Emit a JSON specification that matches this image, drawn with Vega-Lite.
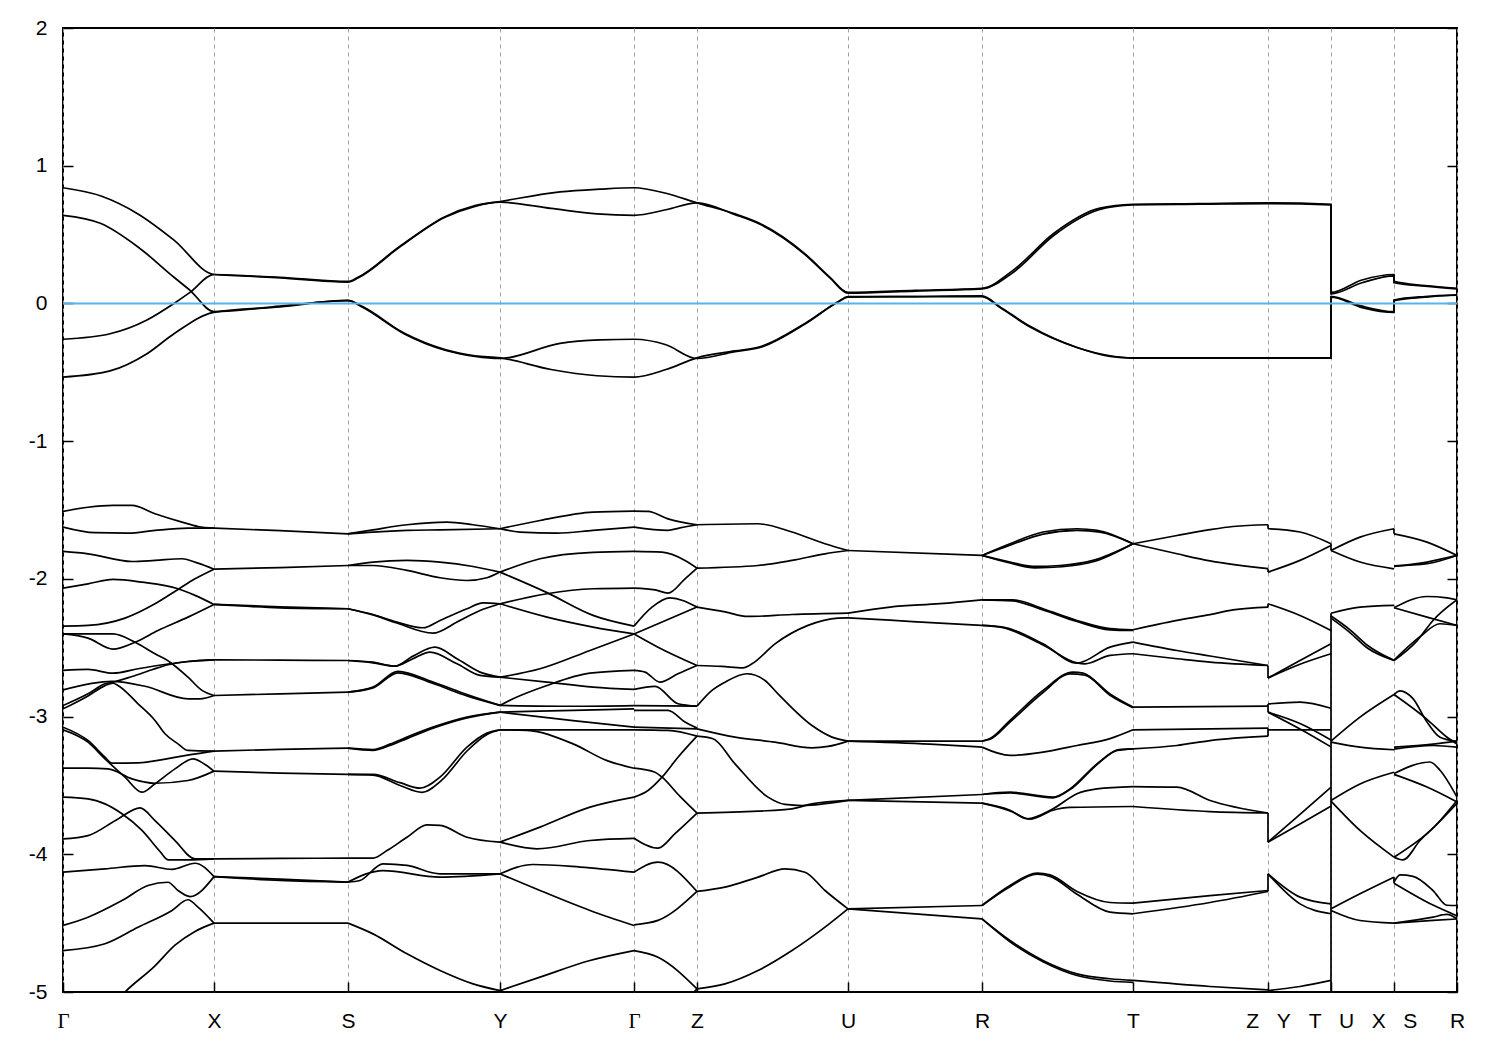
{
"$schema":"https://vega.github.io/schema/vega-lite/v6.json",
"width":1394,"height":964,
"autosize":{"type":"none"},
"padding":{"left":63,"top":28,"right":43,"bottom":58},
"background":"white",
"config":{"view":{"stroke":"black","strokeWidth":2},"axis":{"domain":false}},
"datasets":{"b":[
{"s":"U1","k":63,"e":0.84},{"s":"U1","k":101,"e":0.78},{"s":"U1","k":138,"e":0.65},{"s":"U1","k":174,"e":0.46},{"s":"U1","k":214,"e":0.21},{"s":"U1","k":280,"e":0.19},{"s":"U1","k":348,"e":0.16},{"s":"U1","k":358,"e":0.19},{"s":"U1","k":399,"e":0.41},{"s":"U1","k":445,"e":0.63},{"s":"U1","k":475,"e":0.71},{"s":"U1","k":500,"e":0.74},{"s":"U1","k":560,"e":0.81},{"s":"U1","k":600,"e":0.83},{"s":"U1","k":634,"e":0.84},{"s":"U1","k":666,"e":0.8},{"s":"U1","k":697,"e":0.73},{"s":"U1","k":735,"e":0.65},{"s":"U1","k":760,"e":0.58},{"s":"U1","k":805,"e":0.36},{"s":"U1","k":830,"e":0.19},{"s":"U1","k":848,"e":0.08},{"s":"U1","k":915,"e":0.095},{"s":"U1","k":982,"e":0.11},{"s":"U1","k":1013,"e":0.24},{"s":"U1","k":1054,"e":0.51},{"s":"U1","k":1099,"e":0.69},{"s":"U1","k":1133,"e":0.72},{"s":"U1","k":1200,"e":0.725},{"s":"U1","k":1268,"e":0.73},{"s":"U1","k":1331,"e":0.72},{"s":"U1","k":1331,"e":0.08},{"s":"U1","k":1362,"e":0.17},{"s":"U1","k":1394,"e":0.21},{"s":"U1","k":1394,"e":0.16},{"s":"U1","k":1425,"e":0.13},{"s":"U1","k":1457,"e":0.11},
{"s":"U3","k":63,"e":-0.26},{"s":"U3","k":110,"e":-0.22},{"s":"U3","k":147,"e":-0.12},{"s":"U3","k":174,"e":0.0},{"s":"U3","k":190,"e":0.08},{"s":"U3","k":214,"e":0.21},{"s":"U3","k":280,"e":0.185},{"s":"U3","k":348,"e":0.155},{"s":"U3","k":358,"e":0.185},{"s":"U3","k":399,"e":0.405},{"s":"U3","k":445,"e":0.625},{"s":"U3","k":475,"e":0.705},{"s":"U3","k":500,"e":0.735},{"s":"U3","k":551,"e":0.69},{"s":"U3","k":597,"e":0.65},{"s":"U3","k":634,"e":0.64},{"s":"U3","k":666,"e":0.68},{"s":"U3","k":697,"e":0.73},{"s":"U3","k":735,"e":0.645},{"s":"U3","k":760,"e":0.575},{"s":"U3","k":805,"e":0.355},{"s":"U3","k":830,"e":0.185},{"s":"U3","k":848,"e":0.075},{"s":"U3","k":915,"e":0.09},{"s":"U3","k":982,"e":0.105},{"s":"U3","k":1013,"e":0.225},{"s":"U3","k":1054,"e":0.495},{"s":"U3","k":1099,"e":0.68},{"s":"U3","k":1133,"e":0.715},{"s":"U3","k":1200,"e":0.72},{"s":"U3","k":1268,"e":0.725},{"s":"U3","k":1331,"e":0.715},{"s":"U3","k":1331,"e":0.07},{"s":"U3","k":1362,"e":0.15},{"s":"U3","k":1394,"e":0.2},{"s":"U3","k":1394,"e":0.15},{"s":"U3","k":1425,"e":0.125},{"s":"U3","k":1457,"e":0.105},
{"s":"U2","k":63,"e":0.64},{"s":"U2","k":101,"e":0.58},{"s":"U2","k":138,"e":0.41},{"s":"U2","k":174,"e":0.19},{"s":"U2","k":190,"e":0.095},{"s":"U2","k":214,"e":-0.06},{"s":"U2","k":280,"e":-0.02},{"s":"U2","k":348,"e":0.02},{"s":"U2","k":363,"e":-0.03},{"s":"U2","k":404,"e":-0.22},{"s":"U2","k":445,"e":-0.34},{"s":"U2","k":475,"e":-0.385},{"s":"U2","k":500,"e":-0.4},{"s":"U2","k":560,"e":-0.29},{"s":"U2","k":600,"e":-0.265},{"s":"U2","k":634,"e":-0.26},{"s":"U2","k":666,"e":-0.3},{"s":"U2","k":697,"e":-0.4},{"s":"U2","k":735,"e":-0.35},{"s":"U2","k":760,"e":-0.32},{"s":"U2","k":805,"e":-0.15},{"s":"U2","k":838,"e":0.01},{"s":"U2","k":848,"e":0.045},{"s":"U2","k":915,"e":0.05},{"s":"U2","k":982,"e":0.055},{"s":"U2","k":1000,"e":-0.025},{"s":"U2","k":1031,"e":-0.17},{"s":"U2","k":1077,"e":-0.32},{"s":"U2","k":1110,"e":-0.38},{"s":"U2","k":1133,"e":-0.395},{"s":"U2","k":1200,"e":-0.395},{"s":"U2","k":1268,"e":-0.395},{"s":"U2","k":1331,"e":-0.395},{"s":"U2","k":1331,"e":0.045},{"s":"U2","k":1362,"e":-0.03},{"s":"U2","k":1394,"e":-0.065},{"s":"U2","k":1394,"e":0.02},{"s":"U2","k":1425,"e":0.045},{"s":"U2","k":1457,"e":0.063},
{"s":"U4","k":63,"e":-0.535},{"s":"U4","k":110,"e":-0.49},{"s":"U4","k":147,"e":-0.365},{"s":"U4","k":174,"e":-0.22},{"s":"U4","k":214,"e":-0.065},{"s":"U4","k":280,"e":-0.025},{"s":"U4","k":348,"e":0.022},{"s":"U4","k":363,"e":-0.025},{"s":"U4","k":404,"e":-0.215},{"s":"U4","k":445,"e":-0.335},{"s":"U4","k":475,"e":-0.38},{"s":"U4","k":500,"e":-0.395},{"s":"U4","k":551,"e":-0.48},{"s":"U4","k":597,"e":-0.525},{"s":"U4","k":634,"e":-0.535},{"s":"U4","k":666,"e":-0.48},{"s":"U4","k":697,"e":-0.395},{"s":"U4","k":735,"e":-0.345},{"s":"U4","k":760,"e":-0.315},{"s":"U4","k":805,"e":-0.145},{"s":"U4","k":838,"e":0.012},{"s":"U4","k":848,"e":0.05},{"s":"U4","k":915,"e":0.05},{"s":"U4","k":982,"e":0.05},{"s":"U4","k":1000,"e":-0.03},{"s":"U4","k":1031,"e":-0.175},{"s":"U4","k":1077,"e":-0.32},{"s":"U4","k":1110,"e":-0.385},{"s":"U4","k":1133,"e":-0.398},{"s":"U4","k":1200,"e":-0.398},{"s":"U4","k":1268,"e":-0.398},{"s":"U4","k":1331,"e":-0.398},{"s":"U4","k":1331,"e":0.05},{"s":"U4","k":1362,"e":-0.02},{"s":"U4","k":1394,"e":-0.06},{"s":"U4","k":1394,"e":0.025},{"s":"U4","k":1425,"e":0.05},{"s":"U4","k":1457,"e":0.06},
{"s":"gx1","k":63,"e":-1.51},{"s":"gx1","k":88,"e":-1.48},{"s":"gx1","k":113,"e":-1.467},{"s":"gx1","k":132,"e":-1.467},{"s":"gx1","k":155,"e":-1.527},{"s":"gx1","k":182,"e":-1.588},{"s":"gx1","k":198,"e":-1.62},{"s":"gx1","k":214,"e":-1.632},
{"s":"gx2","k":63,"e":-1.624},{"s":"gx2","k":95,"e":-1.665},{"s":"gx2","k":128,"e":-1.668},{"s":"gx2","k":155,"e":-1.648},{"s":"gx2","k":188,"e":-1.632},{"s":"gx2","k":214,"e":-1.632},
{"s":"gx3","k":63,"e":-1.801},{"s":"gx3","k":88,"e":-1.818},{"s":"gx3","k":132,"e":-1.874},{"s":"gx3","k":155,"e":-1.866},{"s":"gx3","k":182,"e":-1.854},{"s":"gx3","k":198,"e":-1.886},{"s":"gx3","k":214,"e":-1.93},
{"s":"gx4","k":63,"e":-2.067},{"s":"gx4","k":88,"e":-2.036},{"s":"gx4","k":113,"e":-2.004},{"s":"gx4","k":142,"e":-2.024},{"s":"gx4","k":178,"e":-2.072},{"s":"gx4","k":195,"e":-2.12},{"s":"gx4","k":214,"e":-2.186},
{"s":"gx5","k":63,"e":-2.343},{"s":"gx5","k":88,"e":-2.338},{"s":"gx5","k":125,"e":-2.285},{"s":"gx5","k":155,"e":-2.181},{"s":"gx5","k":178,"e":-2.077},{"s":"gx5","k":195,"e":-2.0},{"s":"gx5","k":214,"e":-1.93},
{"s":"gx6","k":63,"e":-2.4},{"s":"gx6","k":88,"e":-2.43},{"s":"gx6","k":113,"e":-2.51},{"s":"gx6","k":135,"e":-2.46},{"s":"gx6","k":158,"e":-2.375},{"s":"gx6","k":188,"e":-2.278},{"s":"gx6","k":214,"e":-2.186},
{"s":"gx7","k":63,"e":-2.4},{"s":"gx7","k":113,"e":-2.4},{"s":"gx7","k":135,"e":-2.46},{"s":"gx7","k":155,"e":-2.544},{"s":"gx7","k":170,"e":-2.605},{"s":"gx7","k":188,"e":-2.714},{"s":"gx7","k":202,"e":-2.81},{"s":"gx7","k":214,"e":-2.847},
{"s":"gx8","k":63,"e":-2.665},{"s":"gx8","k":88,"e":-2.658},{"s":"gx8","k":113,"e":-2.685},{"s":"gx8","k":138,"e":-2.653},{"s":"gx8","k":165,"e":-2.622},{"s":"gx8","k":188,"e":-2.6},{"s":"gx8","k":214,"e":-2.588},
{"s":"gx9","k":63,"e":-2.806},{"s":"gx9","k":112,"e":-2.745},{"s":"gx9","k":145,"e":-2.78},{"s":"gx9","k":188,"e":-2.871},{"s":"gx9","k":200,"e":-2.871},{"s":"gx9","k":214,"e":-2.847},
{"s":"gx10","k":63,"e":-2.92},{"s":"gx10","k":88,"e":-2.835},{"s":"gx10","k":105,"e":-2.762},{"s":"gx10","k":113,"e":-2.75},{"s":"gx10","k":132,"e":-2.709},{"s":"gx10","k":152,"e":-2.66},{"s":"gx10","k":168,"e":-2.624},{"s":"gx10","k":188,"e":-2.6},{"s":"gx10","k":214,"e":-2.588},
{"s":"gx11","k":63,"e":-2.944},{"s":"gx11","k":88,"e":-2.85},{"s":"gx11","k":105,"e":-2.775},{"s":"gx11","k":113,"e":-2.758},{"s":"gx11","k":118,"e":-2.774},{"s":"gx11","k":138,"e":-2.907},{"s":"gx11","k":155,"e":-3.028},{"s":"gx11","k":165,"e":-3.125},{"s":"gx11","k":178,"e":-3.198},{"s":"gx11","k":188,"e":-3.246},{"s":"gx11","k":214,"e":-3.251},
{"s":"gxa","k":63,"e":-3.077},{"s":"gxa","k":88,"e":-3.174},{"s":"gxa","k":105,"e":-3.295},{"s":"gxa","k":112,"e":-3.338},{"s":"gxa","k":138,"e":-3.336},{"s":"gxa","k":172,"e":-3.3},{"s":"gxa","k":192,"e":-3.275},{"s":"gxa","k":214,"e":-3.251},
{"s":"gxc","k":63,"e":-3.096},{"s":"gxc","k":88,"e":-3.186},{"s":"gxc","k":105,"e":-3.307},{"s":"gxc","k":125,"e":-3.44},{"s":"gxc","k":142,"e":-3.549},{"s":"gxc","k":155,"e":-3.488},{"s":"gxc","k":175,"e":-3.38},{"s":"gxc","k":193,"e":-3.307},{"s":"gxc","k":205,"e":-3.348},{"s":"gxc","k":214,"e":-3.396},
{"s":"gxb","k":63,"e":-3.375},{"s":"gxb","k":88,"e":-3.375},{"s":"gxb","k":108,"e":-3.38},{"s":"gxb","k":132,"e":-3.452},{"s":"gxb","k":155,"e":-3.484},{"s":"gxb","k":188,"e":-3.464},{"s":"gxb","k":214,"e":-3.396},
{"s":"gxd","k":63,"e":-3.585},{"s":"gxd","k":88,"e":-3.597},{"s":"gxd","k":105,"e":-3.634},{"s":"gxd","k":122,"e":-3.706},{"s":"gxd","k":142,"e":-3.827},{"s":"gxd","k":160,"e":-3.98},{"s":"gxd","k":168,"e":-4.04},{"s":"gxd","k":188,"e":-4.04},{"s":"gxd","k":214,"e":-4.033},
{"s":"gxe","k":63,"e":-3.888},{"s":"gxe","k":88,"e":-3.864},{"s":"gxe","k":118,"e":-3.743},{"s":"gxe","k":140,"e":-3.663},{"s":"gxe","k":155,"e":-3.755},{"s":"gxe","k":175,"e":-3.9},{"s":"gxe","k":195,"e":-4.033},{"s":"gxe","k":214,"e":-4.033},
{"s":"gxf","k":63,"e":-4.13},{"s":"gxf","k":105,"e":-4.106},{"s":"gxf","k":145,"e":-4.082},{"s":"gxf","k":172,"e":-4.11},{"s":"gxf","k":195,"e":-4.065},{"s":"gxf","k":214,"e":-4.162},
{"s":"gxg","k":63,"e":-4.517},{"s":"gxg","k":88,"e":-4.457},{"s":"gxg","k":122,"e":-4.336},{"s":"gxg","k":148,"e":-4.227},{"s":"gxg","k":168,"e":-4.203},{"s":"gxg","k":178,"e":-4.263},{"s":"gxg","k":190,"e":-4.307},{"s":"gxg","k":214,"e":-4.162},
{"s":"gxh","k":63,"e":-4.699},{"s":"gxh","k":105,"e":-4.65},{"s":"gxh","k":138,"e":-4.53},{"s":"gxh","k":172,"e":-4.408},{"s":"gxh","k":188,"e":-4.33},{"s":"gxh","k":198,"e":-4.384},{"s":"gxh","k":214,"e":-4.5},
{"s":"gxi","k":63,"e":-5.45},{"s":"gxi","k":100,"e":-5.2},{"s":"gxi","k":125,"e":-5.0},{"s":"gxi","k":155,"e":-4.81},{"s":"gxi","k":175,"e":-4.66},{"s":"gxi","k":195,"e":-4.56},{"s":"gxi","k":214,"e":-4.5},
{"s":"xs1","k":214,"e":-1.632},{"s":"xs1","k":280,"e":-1.65},{"s":"xs1","k":348,"e":-1.673},
{"s":"xs2","k":214,"e":-1.93},{"s":"xs2","k":280,"e":-1.918},{"s":"xs2","k":348,"e":-1.903},
{"s":"xs3","k":214,"e":-2.186},{"s":"xs3","k":280,"e":-2.203},{"s":"xs3","k":348,"e":-2.217},
{"s":"xs3b","k":214,"e":-2.186},{"s":"xs3b","k":280,"e":-2.21},{"s":"xs3b","k":348,"e":-2.217},
{"s":"xs4","k":214,"e":-2.588},{"s":"xs4","k":280,"e":-2.59},{"s":"xs4","k":348,"e":-2.593},
{"s":"xs5","k":214,"e":-2.847},{"s":"xs5","k":280,"e":-2.835},{"s":"xs5","k":348,"e":-2.822},
{"s":"xs6","k":214,"e":-3.251},{"s":"xs6","k":280,"e":-3.238},{"s":"xs6","k":348,"e":-3.229},
{"s":"xs7","k":214,"e":-3.396},{"s":"xs7","k":280,"e":-3.41},{"s":"xs7","k":348,"e":-3.42},
{"s":"xs8","k":214,"e":-4.033},{"s":"xs8","k":280,"e":-4.03},{"s":"xs8","k":348,"e":-4.028},
{"s":"xs9","k":214,"e":-4.162},{"s":"xs9","k":280,"e":-4.19},{"s":"xs9","k":348,"e":-4.202},
{"s":"xs9b","k":214,"e":-4.162},{"s":"xs9b","k":280,"e":-4.18},{"s":"xs9b","k":348,"e":-4.202},
{"s":"xs10","k":214,"e":-4.5},{"s":"xs10","k":348,"e":-4.5},
{"s":"sy1u","k":348,"e":-1.673},{"s":"sy1u","k":373,"e":-1.644},{"s":"sy1u","k":407,"e":-1.607},{"s":"sy1u","k":447,"e":-1.588},{"s":"sy1u","k":473,"e":-1.607},{"s":"sy1u","k":500,"e":-1.636},
{"s":"sy1l","k":348,"e":-1.673},{"s":"sy1l","k":373,"e":-1.66},{"s":"sy1l","k":407,"e":-1.648},{"s":"sy1l","k":440,"e":-1.644},{"s":"sy1l","k":500,"e":-1.636},
{"s":"sy2u","k":348,"e":-1.903},{"s":"sy2u","k":373,"e":-1.878},{"s":"sy2u","k":407,"e":-1.866},{"s":"sy2u","k":440,"e":-1.878},{"s":"sy2u","k":473,"e":-1.91},{"s":"sy2u","k":500,"e":-1.951},
{"s":"sy2l","k":348,"e":-1.903},{"s":"sy2l","k":373,"e":-1.903},{"s":"sy2l","k":407,"e":-1.939},{"s":"sy2l","k":440,"e":-1.992},{"s":"sy2l","k":467,"e":-2.012},{"s":"sy2l","k":487,"e":-1.992},{"s":"sy2l","k":500,"e":-1.951},
{"s":"sy3a","k":348,"e":-2.217},{"s":"sy3a","k":373,"e":-2.259},{"s":"sy3a","k":397,"e":-2.314},{"s":"sy3a","k":423,"e":-2.355},{"s":"sy3a","k":440,"e":-2.302},{"s":"sy3a","k":467,"e":-2.217},{"s":"sy3a","k":483,"e":-2.174},{"s":"sy3a","k":500,"e":-2.181},
{"s":"sy3b","k":348,"e":-2.217},{"s":"sy3b","k":373,"e":-2.262},{"s":"sy3b","k":397,"e":-2.321},{"s":"sy3b","k":433,"e":-2.394},{"s":"sy3b","k":457,"e":-2.314},{"s":"sy3b","k":480,"e":-2.23},{"s":"sy3b","k":500,"e":-2.181},
{"s":"sy4a","k":348,"e":-2.593},{"s":"sy4a","k":373,"e":-2.605},{"s":"sy4a","k":395,"e":-2.634},{"s":"sy4a","k":413,"e":-2.561},{"s":"sy4a","k":435,"e":-2.496},{"s":"sy4a","k":457,"e":-2.58},{"s":"sy4a","k":480,"e":-2.677},{"s":"sy4a","k":500,"e":-2.714},
{"s":"sy4b","k":348,"e":-2.593},{"s":"sy4b","k":373,"e":-2.61},{"s":"sy4b","k":395,"e":-2.634},{"s":"sy4b","k":413,"e":-2.58},{"s":"sy4b","k":430,"e":-2.532},{"s":"sy4b","k":457,"e":-2.617},{"s":"sy4b","k":480,"e":-2.701},{"s":"sy4b","k":500,"e":-2.714},
{"s":"sy5","k":348,"e":-2.822},{"s":"sy5","k":373,"e":-2.786},{"s":"sy5","k":398,"e":-2.672},{"s":"sy5","k":433,"e":-2.75},{"s":"sy5","k":467,"e":-2.84},{"s":"sy5","k":500,"e":-2.919},
{"s":"sy5b","k":348,"e":-2.822},{"s":"sy5b","k":373,"e":-2.792},{"s":"sy5b","k":398,"e":-2.682},{"s":"sy5b","k":433,"e":-2.76},{"s":"sy5b","k":467,"e":-2.85},{"s":"sy5b","k":500,"e":-2.919},
{"s":"sy6","k":348,"e":-3.229},{"s":"sy6","k":373,"e":-3.239},{"s":"sy6","k":390,"e":-3.2},{"s":"sy6","k":407,"e":-3.149},{"s":"sy6","k":433,"e":-3.077},{"s":"sy6","k":467,"e":-3.004},{"s":"sy6","k":500,"e":-2.968},
{"s":"sy6b","k":348,"e":-3.229},{"s":"sy6b","k":373,"e":-3.245},{"s":"sy6b","k":390,"e":-3.21},{"s":"sy6b","k":407,"e":-3.16},{"s":"sy6b","k":433,"e":-3.085},{"s":"sy6b","k":467,"e":-3.01},{"s":"sy6b","k":500,"e":-2.968},
{"s":"sy7a","k":348,"e":-3.42},{"s":"sy7a","k":373,"e":-3.42},{"s":"sy7a","k":400,"e":-3.48},{"s":"sy7a","k":420,"e":-3.52},{"s":"sy7a","k":440,"e":-3.44},{"s":"sy7a","k":467,"e":-3.222},{"s":"sy7a","k":487,"e":-3.12},{"s":"sy7a","k":500,"e":-3.096},
{"s":"sy7b","k":348,"e":-3.42},{"s":"sy7b","k":373,"e":-3.425},{"s":"sy7b","k":400,"e":-3.5},{"s":"sy7b","k":422,"e":-3.55},{"s":"sy7b","k":442,"e":-3.46},{"s":"sy7b","k":467,"e":-3.25},{"s":"sy7b","k":487,"e":-3.13},{"s":"sy7b","k":500,"e":-3.096},
{"s":"sy8","k":348,"e":-4.028},{"s":"sy8","k":373,"e":-4.028},{"s":"sy8","k":387,"e":-3.973},{"s":"sy8","k":407,"e":-3.876},{"s":"sy8","k":427,"e":-3.786},{"s":"sy8","k":440,"e":-3.79},{"s":"sy8","k":467,"e":-3.876},{"s":"sy8","k":500,"e":-3.912},
{"s":"sy9u","k":348,"e":-4.202},{"s":"sy9u","k":360,"e":-4.19},{"s":"sy9u","k":383,"e":-4.069},{"s":"sy9u","k":407,"e":-4.081},{"s":"sy9u","k":440,"e":-4.142},{"s":"sy9u","k":500,"e":-4.142},
{"s":"sy9l","k":348,"e":-4.202},{"s":"sy9l","k":383,"e":-4.118},{"s":"sy9l","k":440,"e":-4.166},{"s":"sy9l","k":500,"e":-4.142},
{"s":"sy10","k":348,"e":-4.5},{"s":"sy10","k":373,"e":-4.578},{"s":"sy10","k":407,"e":-4.723},{"s":"sy10","k":440,"e":-4.844},{"s":"sy10","k":473,"e":-4.941},{"s":"sy10","k":500,"e":-4.99},
{"s":"yg1a","k":500,"e":-1.636},{"s":"yg1a","k":540,"e":-1.576},{"s":"yg1a","k":593,"e":-1.515},{"s":"yg1a","k":634,"e":-1.508},
{"s":"yg1b","k":500,"e":-1.636},{"s":"yg1b","k":520,"e":-1.66},{"s":"yg1b","k":557,"e":-1.668},{"s":"yg1b","k":593,"e":-1.648},{"s":"yg1b","k":634,"e":-1.624},
{"s":"yg2a","k":500,"e":-1.951},{"s":"yg2a","k":540,"e":-1.854},{"s":"yg2a","k":593,"e":-1.808},{"s":"yg2a","k":634,"e":-1.801},
{"s":"yg2b","k":500,"e":-1.951},{"s":"yg2b","k":547,"e":-2.1},{"s":"yg2b","k":593,"e":-2.265},{"s":"yg2b","k":634,"e":-2.343},
{"s":"yg3a","k":500,"e":-2.181},{"s":"yg3a","k":547,"e":-2.108},{"s":"yg3a","k":593,"e":-2.072},{"s":"yg3a","k":634,"e":-2.067},
{"s":"yg3b","k":500,"e":-2.181},{"s":"yg3b","k":547,"e":-2.278},{"s":"yg3b","k":593,"e":-2.35},{"s":"yg3b","k":634,"e":-2.4},
{"s":"yg4a","k":500,"e":-2.714},{"s":"yg4a","k":540,"e":-2.653},{"s":"yg4a","k":590,"e":-2.52},{"s":"yg4a","k":634,"e":-2.4},
{"s":"yg4b","k":500,"e":-2.714},{"s":"yg4b","k":547,"e":-2.75},{"s":"yg4b","k":593,"e":-2.786},{"s":"yg4b","k":634,"e":-2.803},
{"s":"yg5a","k":500,"e":-2.919},{"s":"yg5a","k":513,"e":-2.871},{"s":"yg5a","k":547,"e":-2.774},{"s":"yg5a","k":590,"e":-2.685},{"s":"yg5a","k":634,"e":-2.665},
{"s":"yg5b","k":500,"e":-2.919},{"s":"yg5b","k":573,"e":-2.925},{"s":"yg5b","k":634,"e":-2.92},
{"s":"yg6a","k":500,"e":-2.968},{"s":"yg6a","k":573,"e":-2.955},{"s":"yg6a","k":634,"e":-2.944},
{"s":"yg6b","k":500,"e":-2.968},{"s":"yg6b","k":573,"e":-3.03},{"s":"yg6b","k":634,"e":-3.077},
{"s":"yg7a","k":500,"e":-3.096},{"s":"yg7a","k":634,"e":-3.096},
{"s":"yg7b","k":500,"e":-3.096},{"s":"yg7b","k":527,"e":-3.1},{"s":"yg7b","k":573,"e":-3.198},{"s":"yg7b","k":607,"e":-3.32},{"s":"yg7b","k":634,"e":-3.375},
{"s":"yg8a","k":500,"e":-3.912},{"s":"yg8a","k":540,"e":-3.803},{"s":"yg8a","k":590,"e":-3.658},{"s":"yg8a","k":634,"e":-3.585},
{"s":"yg8b","k":500,"e":-3.912},{"s":"yg8b","k":537,"e":-3.96},{"s":"yg8b","k":590,"e":-3.9},{"s":"yg8b","k":634,"e":-3.885},
{"s":"yg9a","k":500,"e":-4.142},{"s":"yg9a","k":533,"e":-4.074},{"s":"yg9a","k":580,"e":-4.093},{"s":"yg9a","k":634,"e":-4.13},
{"s":"yg9b","k":500,"e":-4.142},{"s":"yg9b","k":540,"e":-4.263},{"s":"yg9b","k":590,"e":-4.408},{"s":"yg9b","k":634,"e":-4.517},
{"s":"yg10a","k":500,"e":-4.99},{"s":"yg10a","k":540,"e":-4.892},{"s":"yg10a","k":590,"e":-4.771},{"s":"yg10a","k":634,"e":-4.699},
{"s":"yg10b","k":500,"e":-4.99},{"s":"yg10b","k":530,"e":-5.08},{"s":"yg10b","k":580,"e":-5.25},{"s":"yg10b","k":634,"e":-5.4},
{"s":"gz1","k":634,"e":-1.508},{"s":"gz1","k":648,"e":-1.51},{"s":"gz1","k":668,"e":-1.564},{"s":"gz1","k":697,"e":-1.607},
{"s":"gz2","k":634,"e":-1.624},{"s":"gz2","k":668,"e":-1.648},{"s":"gz2","k":680,"e":-1.63},{"s":"gz2","k":697,"e":-1.607},
{"s":"gz3","k":634,"e":-1.801},{"s":"gz3","k":662,"e":-1.806},{"s":"gz3","k":685,"e":-1.866},{"s":"gz3","k":697,"e":-1.922},
{"s":"gz4","k":634,"e":-2.067},{"s":"gz4","k":655,"e":-2.08},{"s":"gz4","k":668,"e":-2.104},{"s":"gz4","k":685,"e":-2.0},{"s":"gz4","k":697,"e":-1.922},
{"s":"gz5","k":634,"e":-2.343},{"s":"gz5","k":652,"e":-2.205},{"s":"gz5","k":670,"e":-2.138},{"s":"gz5","k":697,"e":-2.205},
{"s":"gz6","k":634,"e":-2.4},{"s":"gz6","k":658,"e":-2.326},{"s":"gz6","k":697,"e":-2.205},
{"s":"gz7","k":634,"e":-2.4},{"s":"gz7","k":658,"e":-2.496},{"s":"gz7","k":697,"e":-2.629},
{"s":"gz8","k":634,"e":-2.665},{"s":"gz8","k":645,"e":-2.677},{"s":"gz8","k":660,"e":-2.75},{"s":"gz8","k":678,"e":-2.689},{"s":"gz8","k":697,"e":-2.629},
{"s":"gz9","k":634,"e":-2.803},{"s":"gz9","k":655,"e":-2.781},{"s":"gz9","k":678,"e":-2.907},{"s":"gz9","k":697,"e":-2.924},
{"s":"gz10","k":634,"e":-2.92},{"s":"gz10","k":697,"e":-2.924},
{"s":"gz11","k":634,"e":-2.955},{"s":"gz11","k":668,"e":-2.955},{"s":"gz11","k":685,"e":-3.04},{"s":"gz11","k":697,"e":-3.084},
{"s":"gz12","k":634,"e":-3.077},{"s":"gz12","k":697,"e":-3.089},
{"s":"gz13","k":634,"e":-3.096},{"s":"gz13","k":668,"e":-3.1},{"s":"gz13","k":697,"e":-3.142},
{"s":"gz14","k":634,"e":-3.375},{"s":"gz14","k":655,"e":-3.404},{"s":"gz14","k":662,"e":-3.44},{"s":"gz14","k":680,"e":-3.58},{"s":"gz14","k":697,"e":-3.701},
{"s":"gz15","k":634,"e":-3.585},{"s":"gz15","k":648,"e":-3.537},{"s":"gz15","k":662,"e":-3.44},{"s":"gz15","k":678,"e":-3.295},{"s":"gz15","k":697,"e":-3.142},
{"s":"gz16","k":634,"e":-3.883},{"s":"gz16","k":658,"e":-3.955},{"s":"gz16","k":675,"e":-3.85},{"s":"gz16","k":697,"e":-3.701},
{"s":"gz17","k":634,"e":-4.13},{"s":"gz17","k":658,"e":-4.057},{"s":"gz17","k":697,"e":-4.27},
{"s":"gz18","k":634,"e":-4.512},{"s":"gz18","k":658,"e":-4.48},{"s":"gz18","k":697,"e":-4.27},
{"s":"gz19","k":634,"e":-4.699},{"s":"gz19","k":658,"e":-4.747},{"s":"gz19","k":697,"e":-4.977},
{"s":"gz20","k":634,"e":-5.4},{"s":"gz20","k":670,"e":-5.2},{"s":"gz20","k":697,"e":-4.977},
{"s":"zu1","k":697,"e":-1.607},{"s":"zu1","k":758,"e":-1.6},{"s":"zu1","k":792,"e":-1.66},{"s":"zu1","k":825,"e":-1.745},{"s":"zu1","k":848,"e":-1.794},
{"s":"zu2","k":697,"e":-1.922},{"s":"zu2","k":758,"e":-1.903},{"s":"zu2","k":792,"e":-1.866},{"s":"zu2","k":825,"e":-1.818},{"s":"zu2","k":848,"e":-1.794},
{"s":"zu3","k":697,"e":-2.205},{"s":"zu3","k":725,"e":-2.24},{"s":"zu3","k":748,"e":-2.273},{"s":"zu3","k":792,"e":-2.259},{"s":"zu3","k":848,"e":-2.249},
{"s":"zu4","k":697,"e":-2.629},{"s":"zu4","k":722,"e":-2.636},{"s":"zu4","k":743,"e":-2.646},{"s":"zu4","k":752,"e":-2.617},{"s":"zu4","k":775,"e":-2.472},{"s":"zu4","k":808,"e":-2.338},{"s":"zu4","k":838,"e":-2.285},{"s":"zu4","k":848,"e":-2.283},
{"s":"zu5","k":697,"e":-2.924},{"s":"zu5","k":712,"e":-2.81},{"s":"zu5","k":725,"e":-2.75},{"s":"zu5","k":747,"e":-2.689},{"s":"zu5","k":765,"e":-2.738},{"s":"zu5","k":778,"e":-2.835},{"s":"zu5","k":812,"e":-3.065},{"s":"zu5","k":832,"e":-3.149},{"s":"zu5","k":848,"e":-3.178},
{"s":"zu6","k":697,"e":-3.089},{"s":"zu6","k":735,"e":-3.149},{"s":"zu6","k":775,"e":-3.186},{"s":"zu6","k":812,"e":-3.227},{"s":"zu6","k":828,"e":-3.217},{"s":"zu6","k":848,"e":-3.178},
{"s":"zu7","k":697,"e":-3.142},{"s":"zu7","k":713,"e":-3.161},{"s":"zu7","k":735,"e":-3.343},{"s":"zu7","k":768,"e":-3.585},{"s":"zu7","k":785,"e":-3.638},{"s":"zu7","k":802,"e":-3.646},{"s":"zu7","k":848,"e":-3.609},
{"s":"zu8","k":697,"e":-3.701},{"s":"zu8","k":758,"e":-3.687},{"s":"zu8","k":792,"e":-3.67},{"s":"zu8","k":812,"e":-3.634},{"s":"zu8","k":848,"e":-3.609},
{"s":"zu9","k":697,"e":-4.27},{"s":"zu9","k":725,"e":-4.239},{"s":"zu9","k":758,"e":-4.166},{"s":"zu9","k":785,"e":-4.106},{"s":"zu9","k":805,"e":-4.13},{"s":"zu9","k":825,"e":-4.263},{"s":"zu9","k":848,"e":-4.396},
{"s":"zu10","k":697,"e":-4.977},{"s":"zu10","k":725,"e":-4.941},{"s":"zu10","k":758,"e":-4.844},{"s":"zu10","k":792,"e":-4.699},{"s":"zu10","k":825,"e":-4.529},{"s":"zu10","k":848,"e":-4.396},
{"s":"ur1","k":848,"e":-1.794},{"s":"ur1","k":982,"e":-1.83},
{"s":"ur2","k":848,"e":-2.249},{"s":"ur2","k":890,"e":-2.205},{"s":"ur2","k":940,"e":-2.18},{"s":"ur2","k":982,"e":-2.152},
{"s":"ur3","k":848,"e":-2.283},{"s":"ur3","k":890,"e":-2.3},{"s":"ur3","k":940,"e":-2.322},{"s":"ur3","k":982,"e":-2.338},
{"s":"ur4","k":848,"e":-3.178},{"s":"ur4","k":982,"e":-3.178},
{"s":"ur5","k":848,"e":-3.178},{"s":"ur5","k":930,"e":-3.2},{"s":"ur5","k":982,"e":-3.222},
{"s":"ur6","k":848,"e":-3.609},{"s":"ur6","k":982,"e":-3.566},
{"s":"ur7","k":848,"e":-3.609},{"s":"ur7","k":982,"e":-3.629},
{"s":"ur8","k":848,"e":-4.396},{"s":"ur8","k":982,"e":-4.372},
{"s":"ur9","k":848,"e":-4.396},{"s":"ur9","k":982,"e":-4.469},
{"s":"rt1a","k":982,"e":-1.83},{"s":"rt1a","k":1010,"e":-1.745},{"s":"rt1a","k":1043,"e":-1.66},{"s":"rt1a","k":1077,"e":-1.636},{"s":"rt1a","k":1097,"e":-1.648},{"s":"rt1a","k":1133,"e":-1.745},
{"s":"rt1b","k":982,"e":-1.83},{"s":"rt1b","k":1010,"e":-1.755},{"s":"rt1b","k":1043,"e":-1.675},{"s":"rt1b","k":1077,"e":-1.648},{"s":"rt1b","k":1100,"e":-1.66},{"s":"rt1b","k":1133,"e":-1.745},
{"s":"rt1c","k":982,"e":-1.83},{"s":"rt1c","k":1010,"e":-1.878},{"s":"rt1c","k":1033,"e":-1.91},{"s":"rt1c","k":1060,"e":-1.903},{"s":"rt1c","k":1093,"e":-1.866},{"s":"rt1c","k":1133,"e":-1.745},
{"s":"rt1d","k":982,"e":-1.83},{"s":"rt1d","k":1010,"e":-1.885},{"s":"rt1d","k":1035,"e":-1.92},{"s":"rt1d","k":1062,"e":-1.912},{"s":"rt1d","k":1095,"e":-1.872},{"s":"rt1d","k":1133,"e":-1.745},
{"s":"rt2","k":982,"e":-2.152},{"s":"rt2","k":1013,"e":-2.152},{"s":"rt2","k":1043,"e":-2.217},{"s":"rt2","k":1077,"e":-2.302},{"s":"rt2","k":1110,"e":-2.362},{"s":"rt2","k":1133,"e":-2.37},
{"s":"rt2b","k":982,"e":-2.152},{"s":"rt2b","k":1013,"e":-2.16},{"s":"rt2b","k":1043,"e":-2.225},{"s":"rt2b","k":1077,"e":-2.31},{"s":"rt2b","k":1110,"e":-2.37},{"s":"rt2b","k":1133,"e":-2.375},
{"s":"rt3a","k":982,"e":-2.338},{"s":"rt3a","k":1003,"e":-2.35},{"s":"rt3a","k":1043,"e":-2.472},{"s":"rt3a","k":1077,"e":-2.612},{"s":"rt3a","k":1110,"e":-2.496},{"s":"rt3a","k":1133,"e":-2.459},
{"s":"rt3b","k":982,"e":-2.338},{"s":"rt3b","k":1003,"e":-2.355},{"s":"rt3b","k":1043,"e":-2.48},{"s":"rt3b","k":1077,"e":-2.61},{"s":"rt3b","k":1085,"e":-2.617},{"s":"rt3b","k":1110,"e":-2.556},{"s":"rt3b","k":1133,"e":-2.544},
{"s":"rt4","k":982,"e":-3.178},{"s":"rt4","k":990,"e":-3.16},{"s":"rt4","k":1010,"e":-3.028},{"s":"rt4","k":1043,"e":-2.81},{"s":"rt4","k":1073,"e":-2.677},{"s":"rt4","k":1083,"e":-2.685},{"s":"rt4","k":1110,"e":-2.835},{"s":"rt4","k":1133,"e":-2.931},
{"s":"rt4b","k":982,"e":-3.178},{"s":"rt4b","k":990,"e":-3.165},{"s":"rt4b","k":1010,"e":-3.04},{"s":"rt4b","k":1043,"e":-2.825},{"s":"rt4b","k":1070,"e":-2.69},{"s":"rt4b","k":1085,"e":-2.7},{"s":"rt4b","k":1110,"e":-2.845},{"s":"rt4b","k":1133,"e":-2.935},
{"s":"rt5","k":982,"e":-3.222},{"s":"rt5","k":1010,"e":-3.282},{"s":"rt5","k":1043,"e":-3.258},{"s":"rt5","k":1077,"e":-3.21},{"s":"rt5","k":1110,"e":-3.16},{"s":"rt5","k":1133,"e":-3.096},
{"s":"rt6","k":982,"e":-3.566},{"s":"rt6","k":1010,"e":-3.549},{"s":"rt6","k":1053,"e":-3.585},{"s":"rt6","k":1070,"e":-3.525},{"s":"rt6","k":1097,"e":-3.343},{"s":"rt6","k":1117,"e":-3.246},{"s":"rt6","k":1133,"e":-3.234},
{"s":"rt6b","k":982,"e":-3.566},{"s":"rt6b","k":1010,"e":-3.555},{"s":"rt6b","k":1053,"e":-3.59},{"s":"rt6b","k":1072,"e":-3.52},{"s":"rt6b","k":1099,"e":-3.335},{"s":"rt6b","k":1119,"e":-3.24},{"s":"rt6b","k":1133,"e":-3.234},
{"s":"rt7a","k":982,"e":-3.629},{"s":"rt7a","k":1010,"e":-3.68},{"s":"rt7a","k":1027,"e":-3.742},{"s":"rt7a","k":1053,"e":-3.67},{"s":"rt7a","k":1077,"e":-3.56},{"s":"rt7a","k":1097,"e":-3.525},{"s":"rt7a","k":1133,"e":-3.508},
{"s":"rt7b","k":982,"e":-3.629},{"s":"rt7b","k":1010,"e":-3.685},{"s":"rt7b","k":1030,"e":-3.745},{"s":"rt7b","k":1053,"e":-3.68},{"s":"rt7b","k":1070,"e":-3.66},{"s":"rt7b","k":1133,"e":-3.653},
{"s":"rt8a","k":982,"e":-4.372},{"s":"rt8a","k":1010,"e":-4.227},{"s":"rt8a","k":1037,"e":-4.137},{"s":"rt8a","k":1050,"e":-4.15},{"s":"rt8a","k":1077,"e":-4.27},{"s":"rt8a","k":1110,"e":-4.35},{"s":"rt8a","k":1133,"e":-4.355},
{"s":"rt8b","k":982,"e":-4.372},{"s":"rt8b","k":1010,"e":-4.235},{"s":"rt8b","k":1037,"e":-4.145},{"s":"rt8b","k":1050,"e":-4.16},{"s":"rt8b","k":1077,"e":-4.29},{"s":"rt8b","k":1110,"e":-4.42},{"s":"rt8b","k":1133,"e":-4.432},
{"s":"rt9","k":982,"e":-4.469},{"s":"rt9","k":1010,"e":-4.626},{"s":"rt9","k":1043,"e":-4.771},{"s":"rt9","k":1077,"e":-4.868},{"s":"rt9","k":1110,"e":-4.904},{"s":"rt9","k":1133,"e":-4.916},
{"s":"rt9b","k":982,"e":-4.469},{"s":"rt9b","k":1010,"e":-4.635},{"s":"rt9b","k":1043,"e":-4.78},{"s":"rt9b","k":1077,"e":-4.88},{"s":"rt9b","k":1110,"e":-4.92},{"s":"rt9b","k":1133,"e":-4.93},
{"s":"tz1","k":1133,"e":-1.745},{"s":"tz1","k":1177,"e":-1.685},{"s":"tz1","k":1210,"e":-1.643},{"s":"tz1","k":1233,"e":-1.62},{"s":"tz1","k":1268,"e":-1.607},
{"s":"tz2","k":1133,"e":-1.745},{"s":"tz2","k":1177,"e":-1.818},{"s":"tz2","k":1210,"e":-1.87},{"s":"tz2","k":1268,"e":-1.926},
{"s":"tz3","k":1133,"e":-2.37},{"s":"tz3","k":1177,"e":-2.302},{"s":"tz3","k":1210,"e":-2.26},{"s":"tz3","k":1233,"e":-2.225},{"s":"tz3","k":1268,"e":-2.205},
{"s":"tz4","k":1133,"e":-2.459},{"s":"tz4","k":1177,"e":-2.52},{"s":"tz4","k":1210,"e":-2.56},{"s":"tz4","k":1268,"e":-2.629},
{"s":"tz5","k":1133,"e":-2.544},{"s":"tz5","k":1177,"e":-2.58},{"s":"tz5","k":1210,"e":-2.605},{"s":"tz5","k":1268,"e":-2.629},
{"s":"tz6","k":1133,"e":-2.931},{"s":"tz6","k":1268,"e":-2.924},
{"s":"tz7","k":1133,"e":-3.096},{"s":"tz7","k":1268,"e":-3.084},
{"s":"tz8","k":1133,"e":-3.234},{"s":"tz8","k":1177,"e":-3.21},{"s":"tz8","k":1210,"e":-3.174},{"s":"tz8","k":1268,"e":-3.142},
{"s":"tz9","k":1133,"e":-3.508},{"s":"tz9","k":1177,"e":-3.513},{"s":"tz9","k":1210,"e":-3.609},{"s":"tz9","k":1268,"e":-3.7},
{"s":"tz10","k":1133,"e":-3.653},{"s":"tz10","k":1210,"e":-3.69},{"s":"tz10","k":1268,"e":-3.7},
{"s":"tz11","k":1133,"e":-4.355},{"s":"tz11","k":1210,"e":-4.3},{"s":"tz11","k":1268,"e":-4.263},
{"s":"tz12","k":1133,"e":-4.432},{"s":"tz12","k":1210,"e":-4.35},{"s":"tz12","k":1268,"e":-4.27},
{"s":"tz13","k":1133,"e":-4.916},{"s":"tz13","k":1210,"e":-4.96},{"s":"tz13","k":1268,"e":-4.985},
{"s":"vz1","k":1268,"e":-1.607},{"s":"vz1","k":1268,"e":-1.636},
{"s":"vz2","k":1268,"e":-1.926},{"s":"vz2","k":1268,"e":-1.951},
{"s":"vz3","k":1268,"e":-2.205},{"s":"vz3","k":1268,"e":-2.181},
{"s":"vz4","k":1268,"e":-2.629},{"s":"vz4","k":1268,"e":-2.72},
{"s":"vz5","k":1268,"e":-2.908},{"s":"vz5","k":1268,"e":-2.968},
{"s":"vz6","k":1268,"e":-3.084},{"s":"vz6","k":1268,"e":-3.142},
{"s":"vz7","k":1268,"e":-3.7},{"s":"vz7","k":1268,"e":-3.912},
{"s":"vz8","k":1268,"e":-4.142},{"s":"vz8","k":1268,"e":-4.27},
{"s":"yt1","k":1268,"e":-1.636},{"s":"yt1","k":1300,"e":-1.66},{"s":"yt1","k":1331,"e":-1.745},
{"s":"yt2","k":1268,"e":-1.951},{"s":"yt2","k":1300,"e":-1.866},{"s":"yt2","k":1331,"e":-1.758},
{"s":"yt3","k":1268,"e":-2.181},{"s":"yt3","k":1300,"e":-2.266},{"s":"yt3","k":1331,"e":-2.375},
{"s":"yt4","k":1268,"e":-2.72},{"s":"yt4","k":1300,"e":-2.593},{"s":"yt4","k":1331,"e":-2.472},
{"s":"yt5","k":1268,"e":-2.72},{"s":"yt5","k":1300,"e":-2.62},{"s":"yt5","k":1331,"e":-2.544},
{"s":"yt6","k":1268,"e":-2.908},{"s":"yt6","k":1300,"e":-2.895},{"s":"yt6","k":1331,"e":-2.94},
{"s":"yt7","k":1268,"e":-2.968},{"s":"yt7","k":1300,"e":-3.09},{"s":"yt7","k":1331,"e":-3.22},
{"s":"yt8","k":1268,"e":-2.968},{"s":"yt8","k":1300,"e":-3.05},{"s":"yt8","k":1331,"e":-3.17},
{"s":"yt9","k":1268,"e":-3.096},{"s":"yt9","k":1331,"e":-3.096},
{"s":"yt10","k":1268,"e":-3.912},{"s":"yt10","k":1300,"e":-3.71},{"s":"yt10","k":1331,"e":-3.513},
{"s":"yt11","k":1268,"e":-3.912},{"s":"yt11","k":1300,"e":-3.78},{"s":"yt11","k":1331,"e":-3.65},
{"s":"yt12","k":1268,"e":-4.142},{"s":"yt12","k":1300,"e":-4.311},{"s":"yt12","k":1331,"e":-4.36},
{"s":"yt13","k":1268,"e":-4.142},{"s":"yt13","k":1300,"e":-4.36},{"s":"yt13","k":1331,"e":-4.432},
{"s":"yt14","k":1268,"e":-4.99},{"s":"yt14","k":1300,"e":-4.96},{"s":"yt14","k":1331,"e":-4.916},
{"s":"vt1","k":1331,"e":-1.745},{"s":"vt1","k":1331,"e":-1.794},
{"s":"vt2","k":1331,"e":-2.249},{"s":"vt2","k":1331,"e":-5.2},
{"s":"ux1","k":1331,"e":-1.794},{"s":"ux1","k":1360,"e":-1.697},{"s":"ux1","k":1394,"e":-1.636},
{"s":"ux2","k":1331,"e":-1.794},{"s":"ux2","k":1360,"e":-1.878},{"s":"ux2","k":1394,"e":-1.927},
{"s":"ux3","k":1331,"e":-2.25},{"s":"ux3","k":1360,"e":-2.205},{"s":"ux3","k":1394,"e":-2.193},
{"s":"ux4a","k":1331,"e":-2.27},{"s":"ux4a","k":1350,"e":-2.37},{"s":"ux4a","k":1367,"e":-2.48},{"s":"ux4a","k":1394,"e":-2.592},
{"s":"ux4b","k":1331,"e":-2.285},{"s":"ux4b","k":1350,"e":-2.39},{"s":"ux4b","k":1367,"e":-2.5},{"s":"ux4b","k":1394,"e":-2.592},
{"s":"ux5","k":1331,"e":-3.178},{"s":"ux5","k":1360,"e":-3.004},{"s":"ux5","k":1394,"e":-2.84},
{"s":"ux6","k":1331,"e":-3.185},{"s":"ux6","k":1360,"e":-3.222},{"s":"ux6","k":1394,"e":-3.241},
{"s":"ux7","k":1331,"e":-3.609},{"s":"ux7","k":1360,"e":-3.489},{"s":"ux7","k":1394,"e":-3.404},
{"s":"ux8","k":1331,"e":-3.614},{"s":"ux8","k":1360,"e":-3.827},{"s":"ux8","k":1394,"e":-4.021},
{"s":"ux9","k":1331,"e":-4.396},{"s":"ux9","k":1360,"e":-4.287},{"s":"ux9","k":1394,"e":-4.166},
{"s":"ux10","k":1331,"e":-4.408},{"s":"ux10","k":1360,"e":-4.481},{"s":"ux10","k":1394,"e":-4.5},
{"s":"vx1","k":1394,"e":-1.636},{"s":"vx1","k":1394,"e":-1.673},
{"s":"vx2","k":1394,"e":-4.166},{"s":"vx2","k":1394,"e":-4.21},
{"s":"sr1","k":1394,"e":-1.673},{"s":"sr1","k":1427,"e":-1.733},{"s":"sr1","k":1457,"e":-1.83},
{"s":"sr2","k":1394,"e":-1.91},{"s":"sr2","k":1427,"e":-1.878},{"s":"sr2","k":1457,"e":-1.83},
{"s":"sr2b","k":1394,"e":-1.905},{"s":"sr2b","k":1427,"e":-1.89},{"s":"sr2b","k":1457,"e":-1.83},
{"s":"sr3a","k":1394,"e":-2.21},{"s":"sr3a","k":1427,"e":-2.128},{"s":"sr3a","k":1447,"e":-2.138},{"s":"sr3a","k":1457,"e":-2.152},
{"s":"sr3b","k":1394,"e":-2.21},{"s":"sr3b","k":1427,"e":-2.278},{"s":"sr3b","k":1457,"e":-2.338},
{"s":"sr4a","k":1394,"e":-2.593},{"s":"sr4a","k":1417,"e":-2.45},{"s":"sr4a","k":1433,"e":-2.302},{"s":"sr4a","k":1457,"e":-2.152},
{"s":"sr4b","k":1394,"e":-2.59},{"s":"sr4b","k":1420,"e":-2.42},{"s":"sr4b","k":1440,"e":-2.326},{"s":"sr4b","k":1457,"e":-2.338},
{"s":"sr5a","k":1394,"e":-2.84},{"s":"sr5a","k":1400,"e":-2.813},{"s":"sr5a","k":1413,"e":-2.87},{"s":"sr5a","k":1427,"e":-3.04},{"s":"sr5a","k":1440,"e":-3.15},{"s":"sr5a","k":1457,"e":-3.18},
{"s":"sr5b","k":1394,"e":-2.84},{"s":"sr5b","k":1427,"e":-3.02},{"s":"sr5b","k":1447,"e":-3.15},{"s":"sr5b","k":1457,"e":-3.2},
{"s":"sr6a","k":1394,"e":-3.222},{"s":"sr6a","k":1433,"e":-3.2},{"s":"sr6a","k":1457,"e":-3.178},
{"s":"sr6b","k":1394,"e":-3.236},{"s":"sr6b","k":1433,"e":-3.21},{"s":"sr6b","k":1457,"e":-3.222},
{"s":"sr7a","k":1394,"e":-3.414},{"s":"sr7a","k":1430,"e":-3.33},{"s":"sr7a","k":1440,"e":-3.39},{"s":"sr7a","k":1457,"e":-3.585},
{"s":"sr7b","k":1394,"e":-3.42},{"s":"sr7b","k":1427,"e":-3.512},{"s":"sr7b","k":1457,"e":-3.62},
{"s":"sr8a","k":1394,"e":-4.021},{"s":"sr8a","k":1403,"e":-4.04},{"s":"sr8a","k":1420,"e":-3.9},{"s":"sr8a","k":1437,"e":-3.78},{"s":"sr8a","k":1457,"e":-3.609},
{"s":"sr8b","k":1394,"e":-4.021},{"s":"sr8b","k":1427,"e":-3.85},{"s":"sr8b","k":1457,"e":-3.63},
{"s":"sr9a","k":1394,"e":-4.202},{"s":"sr9a","k":1400,"e":-4.15},{"s":"sr9a","k":1413,"e":-4.16},{"s":"sr9a","k":1433,"e":-4.263},{"s":"sr9a","k":1447,"e":-4.37},{"s":"sr9a","k":1457,"e":-4.372},
{"s":"sr9b","k":1394,"e":-4.21},{"s":"sr9b","k":1433,"e":-4.369},{"s":"sr9b","k":1457,"e":-4.447},
{"s":"sr10a","k":1394,"e":-4.5},{"s":"sr10a","k":1433,"e":-4.456},{"s":"sr10a","k":1447,"e":-4.437},{"s":"sr10a","k":1457,"e":-4.469},
{"s":"sr10b","k":1394,"e":-4.5},{"s":"sr10b","k":1433,"e":-4.48},{"s":"sr10b","k":1457,"e":-4.47}
]},
"layer":[
{"data":{"name":"b"},
 "mark":{"type":"line","interpolate":"monotone","color":"black","strokeWidth":1.7,"clip":true},
 "encoding":{
  "x":{"field":"k","type":"quantitative","scale":{"domain":[63,1457],"nice":false,"zero":false},
   "axis":{"title":null,"values":[63,214,348,500,634,697,848,982,1133,1268,1331,1394,1457],
    "labelExpr":"datum.value==63||datum.value==634?'Γ':datum.value==214?'X':datum.value==348?'S':datum.value==500?'Y':datum.value==697?'Z':datum.value==848?'U':datum.value==982?'R':datum.value==1133?'T':datum.value==1268?'Z\u00a0\u00a0\u00a0Y':datum.value==1331?'T\u00a0\u00a0\u00a0U':datum.value==1394?'X\u00a0\u00a0\u00a0S':'R'",
    "tickSize":-10,"tickColor":"black","tickWidth":1.5,"labelPadding":28,"labelFontSize":21,
    "labelFont":{"condition":{"test":"datum.value==63||datum.value==634","value":"Liberation Serif"},"value":"Liberation Sans"},
    "labelColor":"black","labelFlush":false,"labelOverlap":false,"labelBound":false,
    "grid":true,"gridDash":[4,4],"gridColor":"#a0a0a0","gridWidth":1}},
  "y":{"field":"e","type":"quantitative","scale":{"domain":[-5,2],"nice":false,"zero":false},
   "axis":{"title":null,"values":[-5,-4,-3,-2,-1,0,1,2],"labelExpr":"''+datum.value","tickSize":-10,"tickColor":"black","tickWidth":1.5,"labelPadding":26,"labelFontSize":21,"labelFont":"Liberation Sans","labelColor":"black","grid":false,"labelFlush":false,"labelOverlap":false,"labelBound":false}},
  "detail":{"field":"s","type":"nominal"}
 }},
{"data":{"values":[{"e":0}]},
 "mark":{"type":"rule","color":"#56b4e9","strokeWidth":2},
 "encoding":{"y":{"field":"e","type":"quantitative","axis":{"orient":"right","title":null,"labels":false,"values":[-5,-4,-3,-2,-1,0,1,2],"tickSize":-10,"tickColor":"black","tickWidth":1.5,"grid":false}}}}
],
"resolve":{"axis":{"y":"independent"}}
}
